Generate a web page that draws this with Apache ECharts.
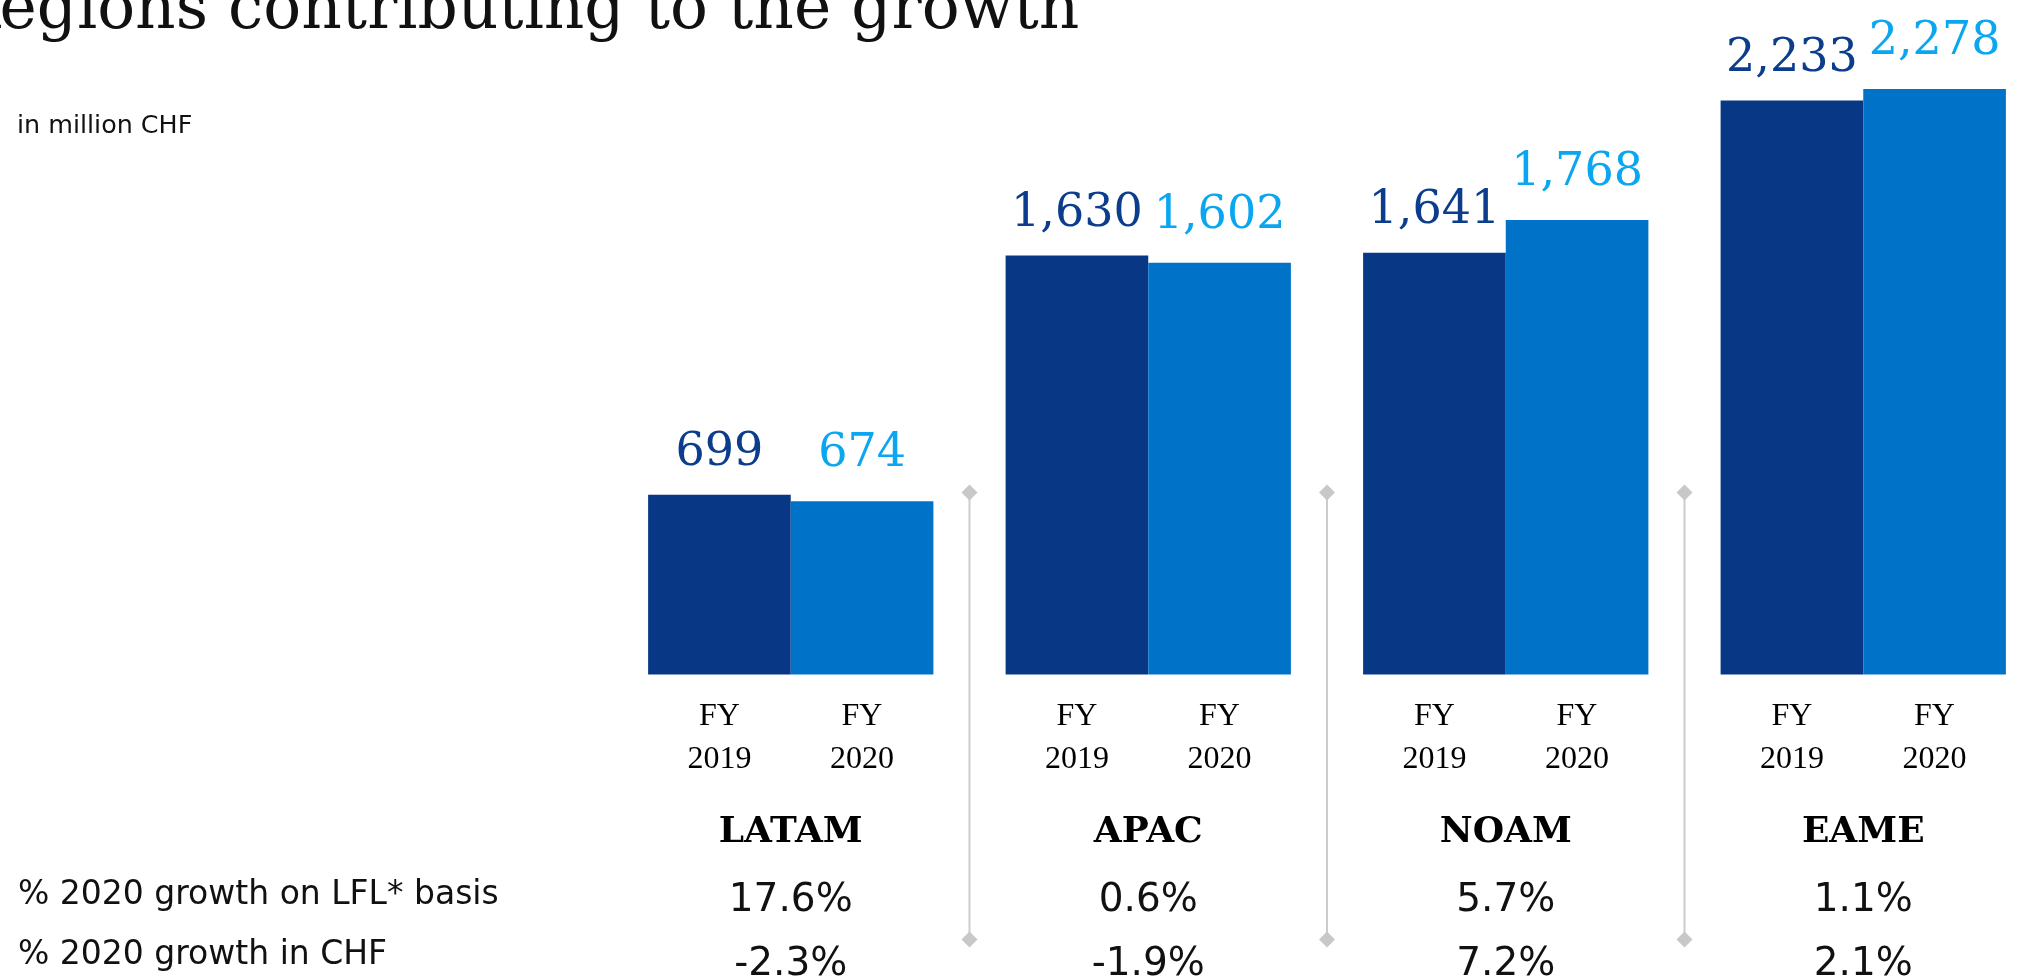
<!DOCTYPE html>
<html><head><meta charset="utf-8">
<script src="https://cdn.jsdelivr.net/npm/echarts@6/dist/echarts.min.js"></script>
<style>html,body{margin:0;padding:0;background:#fff}#c{width:2026px;height:978px}</style>
</head><body><div id="c"></div>
<script>
const titleText = 'Regions contributing to the growth';
const unitText = 'in million CHF';
const regions = ['LATAM', 'APAC', 'NOAM', 'EAME'];
const periods = ['FY 2019', 'FY 2020'];
const sales2019 = [699, 1630, 1641, 2233];
const sales2020 = [674, 1602, 1768, 2278];
const rowLabels = ['% 2020 growth on LFL* basis', '% 2020 growth in CHF'];
const growthLFL = ['17.6%', '0.6%', '5.7%', '1.1%'];
const growthCHF = ['-2.3%', '-1.9%', '7.2%', '2.1%'];
const dividerAfter = ['LATAM', 'APAC', 'NOAM'];

const chart = echarts.init(document.getElementById('c'), null, {renderer: 'canvas'});
const fmt = v => Number(v).toLocaleString('en-US');
const [fyA, yrA] = periods[0].split(' ');
const [fyB, yrB] = periods[1].split(' ');

const valueLabel = (color, dist) => ({
  show: true, position: 'top', distance: dist,
  formatter: p => fmt(p.value),
  fontFamily: 'DejaVu Serif', fontSize: 46, lineHeight: 46, color: color
});

const option = {
  backgroundColor: '#ffffff',
  animation: false,
  title: [
    {text: titleText, left: -48, top: -20, padding: 0,
     textStyle: {fontFamily: 'DejaVu Serif', fontSize: 63, lineHeight: 63, fontWeight: 'normal', color: '#111'}},
    {text: unitText, left: 17, top: 114, padding: 0,
     textStyle: {fontFamily: 'DejaVu Sans', fontSize: 25.4, lineHeight: 25, fontWeight: 'normal', color: '#111'}},
    {text: rowLabels[0], left: 18, top: 879, padding: 0,
     textStyle: {fontFamily: 'DejaVu Sans', fontSize: 33, lineHeight: 33, fontWeight: 'normal', color: '#111'}},
    {text: rowLabels[1], left: 18, top: 939, padding: 0,
     textStyle: {fontFamily: 'DejaVu Sans', fontSize: 33, lineHeight: 33, fontWeight: 'normal', color: '#111'}}
  ],
  grid: {left: 612, top: 32, width: 1430, height: 642.5, containLabel: false, outerBoundsMode: 'none'},
  xAxis: {
    type: 'category', data: regions,
    axisLine: {show: false}, axisTick: {show: false}, splitLine: {show: false},
    axisLabel: {
      interval: 0, margin: 23, color: '#000',
      formatter: (v, i) => `{fy|${fyA}}{fy|${fyB}}\n{yr|${yrA}}{yr|${yrB}}\n{reg|${v}}\n{p1|${growthLFL[i]}}\n{p2|${growthCHF[i]}}`,
      rich: {
        fy: {width: 142.5, align: 'center', fontFamily: 'Liberation Serif', fontSize: 32, lineHeight: 39, color: '#000'},
        yr: {width: 142.5, align: 'center', fontFamily: 'Liberation Serif', fontSize: 32, lineHeight: 47, color: '#000'},
        reg: {width: 285, align: 'center', fontFamily: 'DejaVu Serif', fontWeight: 'bold', fontSize: 36, lineHeight: 98, color: '#000'},
        p1: {width: 285, align: 'center', fontFamily: 'DejaVu Sans', fontSize: 39, lineHeight: 39, color: '#111'},
        p2: {width: 285, align: 'center', fontFamily: 'DejaVu Sans', fontSize: 39, lineHeight: 88, color: '#111'}
      }
    }
  },
  yAxis: {type: 'value', min: 0, max: 2500, show: false, splitLine: {show: false}},
  series: [
    {type: 'bar', name: periods[0], data: sales2019, barGap: '0%', barCategoryGap: '20.2%',
     itemStyle: {color: '#083785'}, label: valueLabel('#0B3D8C', 19)},
    {type: 'bar', name: periods[1], data: sales2020, barGap: '0%', barCategoryGap: '20.2%',
     itemStyle: {color: '#0073C8'}, label: valueLabel('#0AA6F0', 24)},
    {type: 'custom', data: dividerAfter.map(r => [r, 0]), encode: {x: 0, y: 1},
     clip: false, silent: true, z: 1,
     renderItem: (params, api) => {
       const i = api.value(0);
       const p0 = api.coord([i, 0]);
       const p1 = api.coord([i + 1, 0]);
       const x = (p0[0] + p1[0]) / 2;
       const base = p0[1];
       const top = base - 182, bot = base + 265, d = 8;
       const diamond = (y) => ({type: 'polygon', shape: {points: [[x, y - d], [x + d, y], [x, y + d], [x - d, y]]}, style: {fill: '#c8c8c8'}});
       return {type: 'group', children: [
         {type: 'line', shape: {x1: x, y1: top, x2: x, y2: bot}, style: {stroke: '#cccccc', lineWidth: 2}},
         diamond(top), diamond(bot)
       ]};
     }}
  ]
};
chart.setOption(option);
</script></body></html>
